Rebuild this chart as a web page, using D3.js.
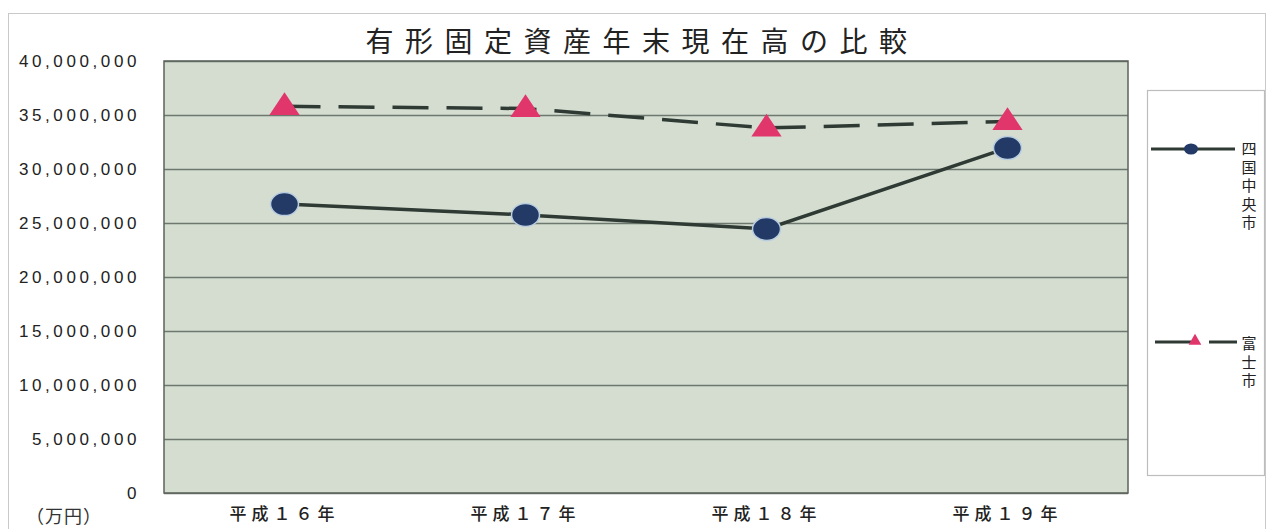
<!DOCTYPE html>
<html>
<head>
<meta charset="utf-8">
<script src="https://cdn.jsdelivr.net/npm/d3@7"></script>
<style>
  html, body { margin: 0; padding: 0; background: #ffffff; }
  svg { display: block; }
</style>
</head>
<body>
<svg id="chart" width="1271" height="529"></svg>
<script>
// Year categories (Heisei years)
const years = ["平成１６年", "平成１７年", "平成１８年", "平成１９年"];
// Year-end balance of tangible fixed assets (万円)
const shikokuchuo = [26750000, 25750000, 24450000, 31950000];
const fuji = [35800000, 35600000, 33800000, 34400000];
const seriesNames = ["四国中央市", "富士市"];
const yTicks = [0, 5000000, 10000000, 15000000, 20000000, 25000000, 30000000, 35000000, 40000000];
const chartTitle = "有形固定資産年末現在高の比較";
const unitLabel = "（万円）";

const svg = d3.select("#chart");
const plot = { left: 164, right: 1128, top: 61, bottom: 493 };

// outer chart frame
svg.append("rect")
  .attr("x", 8.5).attr("y", 13.5).attr("width", 1257).attr("height", 520)
  .attr("fill", "#ffffff").attr("stroke", "#c9c9c9").attr("stroke-width", 1);

const x = d3.scaleBand().domain(years).range([plot.left, plot.right]);
const y = d3.scaleLinear().domain([0, 40000000]).range([plot.bottom, plot.top]);
const cx = d => x(d) + x.bandwidth() / 2;

// plot area
svg.append("rect")
  .attr("x", plot.left).attr("y", plot.top)
  .attr("width", plot.right - plot.left).attr("height", plot.bottom - plot.top)
  .attr("fill", "#d5ddd1");

// gridlines
const grid = d3.axisLeft(y).tickValues(yTicks).tickSize(-(plot.right - plot.left)).tickFormat("");
svg.append("g").attr("transform", `translate(${plot.left},0)`).call(grid)
  .call(g => g.select(".domain").remove())
  .call(g => g.selectAll("line").attr("stroke", "#6e786f").attr("stroke-width", 1.5));

// plot border
svg.append("rect")
  .attr("x", plot.left).attr("y", plot.top)
  .attr("width", plot.right - plot.left).attr("height", plot.bottom - plot.top)
  .attr("fill", "none").attr("stroke", "#5c635c").attr("stroke-width", 1.5);

// y axis labels
const fmt = d3.format(",");
const yAxis = d3.axisLeft(y).tickValues(yTicks).tickSize(0).tickPadding(0).tickFormat(d => fmt(d));
svg.append("g").attr("transform", `translate(${plot.left - 24},0)`).call(yAxis)
  .call(g => g.select(".domain").remove())
  .call(g => g.selectAll("text")
    .attr("font-family", "'Liberation Sans', Arial, sans-serif")
    .attr("font-size", 17).attr("fill", "#222")
    .attr("letter-spacing", "3.6px"));

// x axis labels
const xAxis = d3.axisBottom(x).tickSize(0).tickPadding(0);
svg.append("g").attr("transform", `translate(0,${plot.bottom + 15})`).call(xAxis)
  .call(g => g.select(".domain").remove())
  .call(g => g.selectAll("text")
    .attr("font-family", "'Noto Sans CJK JP', sans-serif")
    .attr("font-size", 17).attr("font-weight", 500).attr("fill", "#222")
    .attr("letter-spacing", "5px"));

// unit label
svg.append("text").attr("x", 26).attr("y", 523)
  .attr("font-family", "'Noto Sans CJK JP', serif").attr("font-size", 18)
  .attr("letter-spacing", "1px")
  .attr("fill", "#333").text(unitLabel);

// title
svg.append("text").attr("x", 642).attr("y", 52).attr("text-anchor", "middle")
  .attr("font-family", "'Noto Sans CJK JP', sans-serif").attr("font-size", 28)
  .attr("letter-spacing", "11.5px").attr("fill", "#222").text(chartTitle);

const line = d3.line().x((d, i) => cx(years[i])).y(d => y(d));

// 富士市: dashed line with triangles
svg.append("path").datum(fuji).attr("d", line)
  .attr("fill", "none").attr("stroke", "#2e3a33").attr("stroke-width", 3.5)
  .attr("stroke-dasharray", "36,18");
// 四国中央市: solid line with circles
svg.append("path").datum(shikokuchuo).attr("d", line)
  .attr("fill", "none").attr("stroke", "#2e3a33").attr("stroke-width", 3.5);

const tri = d3.symbol().type(d3.symbolTriangle).size(300);
svg.selectAll(".tri").data(fuji).enter().append("path")
  .attr("d", tri)
  .attr("transform", (d, i) => `translate(${cx(years[i])},${y(d) + 1}) scale(1.15,1)`)
  .attr("fill", "#e0366c");

svg.selectAll(".dot").data(shikokuchuo).enter().append("ellipse")
  .attr("cx", (d, i) => cx(years[i])).attr("cy", d => y(d))
  .attr("rx", 14).attr("ry", 11.5)
  .attr("fill", "#233a66").attr("stroke", "#b9cde0").attr("stroke-width", 1.5);

// legend
const lg = svg.append("g");
lg.append("rect").attr("x", 1147.5).attr("y", 90.5).attr("width", 117).attr("height", 385)
  .attr("fill", "#ffffff").attr("stroke", "#bdbdbd").attr("stroke-width", 1.2);

const ly1 = 149;
lg.append("line").attr("x1", 1151).attr("x2", 1235).attr("y1", ly1).attr("y2", ly1)
  .attr("stroke", "#2e3a33").attr("stroke-width", 3);
lg.append("ellipse").attr("cx", 1191).attr("cy", ly1).attr("rx", 7).attr("ry", 5.5)
  .attr("fill", "#233a66");

const ly2 = 342;
lg.append("line").attr("x1", 1155).attr("x2", 1237).attr("y1", ly2).attr("y2", ly2)
  .attr("stroke", "#2e3a33").attr("stroke-width", 3).attr("stroke-dasharray", "36,18");
lg.append("path").attr("d", d3.symbol().type(d3.symbolTriangle).size(70))
  .attr("transform", `translate(1195,${ly2 - 1})`).attr("fill", "#e0366c");

seriesNames.forEach((name, k) => {
  const startY = k === 0 ? 154 : 349;
  Array.from(name).forEach((ch, j) => {
    lg.append("text").attr("x", 1249).attr("y", startY + j * 18.5)
      .attr("text-anchor", "middle")
      .attr("font-family", "'Noto Sans CJK JP', sans-serif").attr("font-size", 15)
      .attr("fill", "#222").text(ch);
  });
});
</script>
</body>
</html>
